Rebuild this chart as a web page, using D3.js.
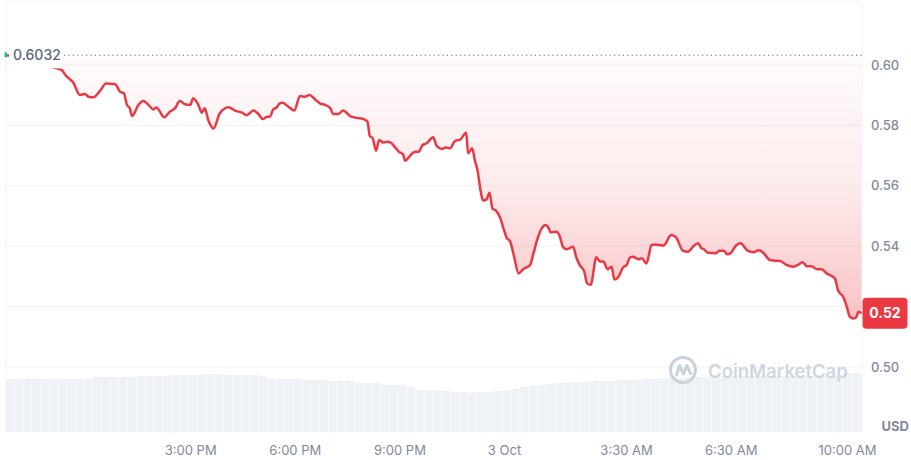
<!DOCTYPE html>
<html>
<head>
<meta charset="utf-8">
<script src="https://cdn.jsdelivr.net/npm/d3@7"></script>
<style>
  body { margin: 0; background: #fff; }
  svg { display: block; font-family: Inter, "Noto Sans", sans-serif; }
</style>
</head>
<body>
<svg id="chart" width="911" height="460"></svg>
<script>
// price data, minutes after the chart start (2 Oct 09:43)
var startTime = new Date(2024, 9, 2, 9, 43);
var endMinute = 1473;
var openPrice = 0.6032;

var minutes = [0,15,33,59,79,96,102,116,127,136,
  142,150,162,172,188,196,203,208,213,217,
  228,236,248,253,259,265,272,282,291,299,
  308,317,322,331,337,342,348,357,368,383,
  394,406,414,426,434,442,449,454,460,466,
  471,476,486,496,506,514,522,532,540,549,
  558,563,572,580,592,603,615,622,626,631,
  637,642,649,656,662,671,678,683,687,695,
  704,710,717,724,735,741,750,757,764,773,
  781,792,795,802,807,811,817,821,827,832,
  837,843,850,856,862,867,874,882,890,902,
  907,914,922,928,933,937,948,952,959,965,
  976,981,987,995,1000,1006,1016,1022,1028,1035,
  1042,1047,1054,1062,1068,1074,1079,1088,1094,1102,
  1111,1118,1131,1145,1153,1165,1174,1182,1191,1197,
  1201,1208,1222,1227,1235,1241,1247,1257,1264,1276,
  1286,1296,1303,1315,1323,1332,1343,1355,1363,1371,
  1378,1386,1395,1404,1412,1421,1426,1432,1441,1447,
  1452,1458,1463,1467,1472];

var prices = [0.6032,0.6028,0.6013,0.6000,0.5993,0.5983,0.5967,0.5941,0.5901,0.5904,
  0.5895,0.5893,0.5915,0.5939,0.5936,0.5912,0.5906,0.5868,0.5857,0.5831,
  0.5868,0.5881,0.5862,0.5853,0.5859,0.5845,0.5827,0.5845,0.5857,0.5881,
  0.5870,0.5868,0.5890,0.5868,0.5842,0.5857,0.5818,0.5790,0.5840,0.5860,
  0.5849,0.5842,0.5834,0.5849,0.5838,0.5821,0.5829,0.5829,0.5853,0.5860,
  0.5873,0.5875,0.5862,0.5849,0.5897,0.5895,0.5901,0.5886,0.5873,0.5868,
  0.5857,0.5838,0.5838,0.5849,0.5831,0.5825,0.5821,0.5812,0.5765,0.5757,
  0.5716,0.5752,0.5743,0.5746,0.5743,0.5724,0.5710,0.5705,0.5683,0.5699,
  0.5713,0.5713,0.5735,0.5741,0.5761,0.5732,0.5722,0.5727,0.5724,0.5749,
  0.5752,0.5776,0.5708,0.5724,0.5682,0.5655,0.5580,0.5551,0.5555,0.5577,
  0.5525,0.5518,0.5496,0.5459,0.5426,0.5418,0.5368,0.5310,0.5324,0.5338,
  0.5371,0.5421,0.5459,0.5470,0.5463,0.5446,0.5448,0.5437,0.5396,0.5390,
  0.5398,0.5365,0.5338,0.5316,0.5277,0.5272,0.5363,0.5349,0.5349,0.5324,
  0.5332,0.5290,0.5299,0.5330,0.5338,0.5363,0.5365,0.5357,0.5360,0.5343,
  0.5404,0.5406,0.5402,0.5437,0.5429,0.5385,0.5382,0.5398,0.5410,0.5393,
  0.5390,0.5378,0.5377,0.5385,0.5385,0.5373,0.5377,0.5404,0.5410,0.5385,
  0.5380,0.5387,0.5378,0.5354,0.5352,0.5351,0.5338,0.5332,0.5338,0.5347,
  0.5334,0.5334,0.5324,0.5324,0.5310,0.5301,0.5294,0.5253,0.5231,0.5198,
  0.5167,0.5161,0.5165,0.5183,0.5178];

// volume, one bar every 15 minutes
var volStep = 15;
var volume = [53,53,53,53,53,53,53,53,53,53,
  55,55,55,55,55,56,56,56,56,57,
  57,57,57,58,58,57,57,57,57,56,
  53,53,53,53,52,52,52,51,51,51,
  49,49,49,47,47,47,45,42,42,42,
  41,40,40,39,40,40,41,42,43,45,
  46,47,48,49,49.5,50,50,51,51,51,
  52,52,52,53,53,53,54,54,54,55,
  55,55,56,56,56,56,56,56,56,56,
  56,56,56,56,56,56,59,59,59];

var priceTicks = [0.50, 0.52, 0.54, 0.56, 0.58, 0.60];
var timeTicks = ["2024-10-02 15:00", "2024-10-02 18:00", "2024-10-02 21:00",
  "2024-10-03 00:00", "2024-10-03 03:30", "2024-10-03 06:30", "2024-10-03 10:00"];

var red = "#ea3943", grid = "#eff2f5", textGrey = "#808a9d";

var svg = d3.select("#chart"),
    plotLeft = 6, plotRight = 862, plotTop = 2, plotBottom = 432;

var parseTick = d3.timeParse("%Y-%m-%d %H:%M");
var toDate = function (m) { return d3.timeMinute.offset(startTime, m); };

var x = d3.scaleTime()
    .domain([startTime, toDate(endMinute)])
    .range([plotLeft, plotRight]);
var y = d3.scaleLinear()
    .domain([0.50, 0.60])
    .range([367, 65]);
var yVol = d3.scaleLinear()
    .domain([0, 100])
    .range([plotBottom, plotBottom - 100]);

var data = minutes.map(function (m, i) {
  return {t: toDate(m), p: prices[i]};
});
var last = data[data.length - 1];

var defs = svg.append("defs");
defs.append("clipPath").attr("id", "plot")
  .append("rect").attr("x", plotLeft).attr("y", plotTop)
  .attr("width", plotRight - plotLeft).attr("height", plotBottom - plotTop);

var grad = defs.append("linearGradient").attr("id", "fade")
    .attr("gradientUnits", "userSpaceOnUse")
    .attr("x1", 0).attr("x2", 0)
    .attr("y1", y(openPrice)).attr("y2", y(0.517));
grad.append("stop").attr("offset", 0).attr("stop-color", red).attr("stop-opacity", 0.02);
grad.append("stop").attr("offset", 0.5).attr("stop-color", red).attr("stop-opacity", 0.1);
grad.append("stop").attr("offset", 1).attr("stop-color", red).attr("stop-opacity", 0.3);

// frame + grid
svg.append("g").selectAll("line")
  .data(priceTicks)
  .enter().append("line")
  .attr("x1", plotLeft).attr("x2", plotRight)
  .attr("y1", function (d) { return y(d); })
  .attr("y2", function (d) { return y(d); })
  .attr("stroke", grid);

svg.append("path")
  .attr("d", "M" + plotLeft + "," + plotBottom + "V" + plotTop + "H" + plotRight + "V" + plotBottom)
  .attr("fill", "none").attr("stroke", grid);

// volume bars
var vbw = x(toDate(volStep)) - x(toDate(0));
svg.append("g").attr("clip-path", "url(#plot)")
  .selectAll("rect")
  .data(volume)
  .enter().append("rect")
  .attr("x", function (d, i) { return x(toDate(i * volStep)); })
  .attr("width", vbw - 0.6)
  .attr("y", function (d) { return yVol(d); })
  .attr("height", function (d) { return plotBottom - yVol(d); })
  .attr("fill", "#eef1f5");

// watermark
var wm = svg.append("g").attr("transform", "translate(683,370)");
wm.append("circle").attr("r", 12.5).attr("fill", "none")
  .attr("stroke", "#c9d1dd").attr("stroke-width", 3);
wm.append("path")
  .attr("d", "M-6.5,5 L-3.5,-4.5 L0.5,4 L4,-4.5 L7.5,3.5")
  .attr("fill", "none").attr("stroke", "#c9d1dd")
  .attr("stroke-width", 3).attr("stroke-linejoin", "round").attr("stroke-linecap", "round");
svg.append("text")
  .attr("x", 708).attr("y", 372).attr("dy", "0.35em")
  .attr("font-size", 18.5).attr("font-weight", 600)
  .attr("fill", "#c9d1dd").attr("fill-opacity", 0.9)
  .text("CoinMarketCap");

// area between price and open price
var area = d3.area()
  .x(function (d) { return x(d.t); })
  .y0(y(openPrice))
  .y1(function (d) { return y(d.p); })
  .curve(d3.curveMonotoneX);
svg.append("path").datum(data)
  .attr("clip-path", "url(#plot)")
  .attr("d", area).attr("fill", "url(#fade)");

// open price dotted line
svg.append("line")
  .attr("x1", plotLeft + 58).attr("x2", plotRight)
  .attr("y1", y(openPrice)).attr("y2", y(openPrice))
  .attr("stroke", "#6f9484").attr("stroke-width", 1.2)
  .attr("stroke-dasharray", "1.2,3.2");

var line = d3.line()
  .x(function (d) { return x(d.t); })
  .y(function (d) { return y(d.p); })
  .curve(d3.curveMonotoneX);
svg.append("path").datum(data)
  .attr("d", line).attr("fill", "none")
  .attr("stroke", red).attr("stroke-width", 2.5)
  .attr("stroke-linejoin", "round");

// open price label
svg.append("rect")
  .attr("x", plotLeft + 3).attr("y", y(openPrice) - 11)
  .attr("width", 53).attr("height", 24).attr("fill", "#fff");
svg.append("rect")
  .attr("x", plotLeft - 1.5).attr("y", y(openPrice) - 3)
  .attr("width", 2.5).attr("height", 5).attr("fill", "#16c784");
svg.append("text")
  .attr("x", plotLeft + 7).attr("y", y(openPrice)).attr("dy", "0.35em")
  .attr("font-size", 14).attr("font-weight", 500).attr("fill", "#58667e")
  .text(d3.format(".4f")(openPrice));

// axes
var fmtDay = d3.timeFormat("%-d %b"), fmtTime = d3.timeFormat("%-I:%M %p");
var xAxis = svg.append("g")
  .attr("transform", "translate(0," + plotBottom + ")")
  .call(d3.axisBottom(x)
    .tickValues(timeTicks.map(parseTick))
    .tickSize(0).tickPadding(14)
    .tickFormat(function (d) {
      return (d.getHours() === 0 && d.getMinutes() === 0) ? fmtDay(d) : fmtTime(d);
    }));
xAxis.select(".domain").remove();
xAxis.selectAll("text")
  .attr("font-family", "Inter, 'Noto Sans', sans-serif")
  .attr("font-size", 13).attr("fill", textGrey)
  .each(function (d) {
    // keep the last label inside the chart, like the original
    var b = this.getBBox();
    var over = x(d) + b.x + b.width - 876;
    if (over > 0) d3.select(this).attr("x", -over);
  });

var yAxis = svg.append("g")
  .attr("transform", "translate(" + plotRight + ",0)")
  .call(d3.axisRight(y).tickValues(priceTicks)
    .tickSize(0).tickPadding(9).tickFormat(d3.format(".2f")));
yAxis.select(".domain").remove();
yAxis.selectAll("text")
  .attr("font-family", "Inter, 'Noto Sans', sans-serif")
  .attr("font-size", 13).attr("font-weight", 500).attr("fill", textGrey);
// tick label hidden behind the last price badge
yAxis.selectAll(".tick")
  .filter(function (d) { return Math.abs(y(d) - y(last.p)) < 16; })
  .remove();

svg.append("text")
  .attr("x", 909).attr("y", 426).attr("dy", "0.35em")
  .attr("text-anchor", "end")
  .attr("font-size", 13).attr("font-weight", 700).attr("fill", textGrey)
  .text("USD");

// last price badge
svg.append("rect")
  .attr("x", plotRight + 0.5).attr("y", y(last.p) - 15.5)
  .attr("width", 45).attr("height", 31).attr("rx", 4)
  .attr("fill", red);
svg.append("text")
  .attr("x", plotRight + 23).attr("y", y(last.p)).attr("dy", "0.35em")
  .attr("text-anchor", "middle")
  .attr("font-size", 14).attr("font-weight", 700).attr("fill", "#fff")
  .text(d3.format(".2f")(last.p));
</script>
</body>
</html>
